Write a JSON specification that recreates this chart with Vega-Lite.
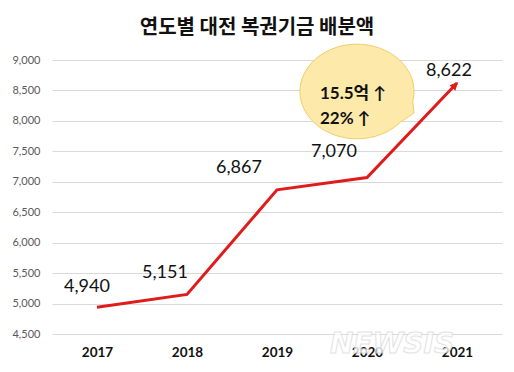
{
  "$schema": "https://vega.github.io/schema/vega-lite/v6.json",
  "width": 450,
  "height": 274,
  "autosize": {"type": "none"},
  "padding": {"left": 52, "top": 60, "right": 12, "bottom": 38},
  "background": "white",
  "config": {"view": {"stroke": null}},
  "title": {
    "text": "연도별 대전 복권기금 배분액",
    "font": "Noto Sans CJK KR",
    "fontSize": 20,
    "fontWeight": "bold",
    "color": "#111111",
    "anchor": "middle",
    "dx": -20,
    "offset": 4
  },
  "datasets": {
    "main": [
      {"year": 2017, "value": 4940},
      {"year": 2018, "value": 5151},
      {"year": 2019, "value": 6867},
      {"year": 2020, "value": 7070},
      {"year": 2021, "value": 8622}
    ],
    "bubble": [
      {"year": 2020, "value": 8500, "text": "15.5억 ↑\n22% ↑"}
    ],
    "mark": [
      {"year": 2020, "value": 4500, "text": "NEWSIS"}
    ]
  },
  "data": {"name": "main"},
  "encoding": {
    "x": {
      "field": "year",
      "type": "quantitative",
      "scale": {"domain": [2016.5, 2021.5], "nice": false, "zero": false},
      "axis": {
        "title": null,
        "values": [2017, 2018, 2019, 2020, 2021],
        "format": "d",
        "grid": false,
        "ticks": false,
        "domain": false,
        "labelFont": "Lato",
        "labelFontSize": 13.5,
        "labelFontWeight": "bold",
        "labelColor": "#111111",
        "labelPadding": 11
      }
    },
    "y": {
      "field": "value",
      "type": "quantitative",
      "scale": {"domain": [4500, 9000], "nice": false, "zero": false},
      "axis": {
        "title": null,
        "values": [4500, 5000, 5500, 6000, 6500, 7000, 7500, 8000, 8500, 9000],
        "format": ",.0f",
        "grid": true,
        "gridColor": "#d9d9d9",
        "gridWidth": 1,
        "ticks": false,
        "domain": false,
        "labelFont": "Lato",
        "labelFontSize": 11,
        "labelColor": "#595959",
        "labelPadding": 12
      }
    }
  },
  "layer": [
    {
      "mark": {"type": "line", "color": "#e01b1b", "strokeWidth": 3}
    },
    {
      "transform": [{"filter": "datum.year == 2021"}],
      "mark": {
        "type": "point",
        "shape": "M0,-0.2L0.6,1L-0.6,1Z",
        "filled": true,
        "color": "#e01b1b",
        "opacity": 1,
        "size": 180,
        "angle": 42.6
      }
    },
    {
      "data": {"name": "bubble"},
      "mark": {
        "type": "point",
        "shape": "M0.978,0.173L1.0,0.38L0.766,0.534A1,0.83 0 1 1 0.978,0.173Z",
        "filled": true,
        "fill": "#fde9a9",
        "stroke": "#efcf6a",
        "strokeWidth": 1,
        "opacity": 1,
        "size": 12996,
        "xOffset": -10,
        "yOffset": 1
      }
    },
    {
      "data": {"name": "bubble"},
      "mark": {
        "type": "text",
        "align": "left",
        "baseline": "middle",
        "lineBreak": "\n",
        "lineHeight": 25,
        "dx": -47,
        "dy": 4,
        "font": "Lato, Noto Sans CJK KR",
        "fontSize": 17,
        "fontWeight": "bold",
        "color": "#111111"
      },
      "encoding": {"text": {"field": "text"}}
    },
    {
      "transform": [{"filter": "datum.year == 2017"}],
      "mark": {"type": "text", "font": "Lato", "fontSize": 18, "color": "#111111", "dx": -10, "dy": -20},
      "encoding": {"text": {"field": "value", "format": ",.0f"}}
    },
    {
      "transform": [{"filter": "datum.year == 2018"}],
      "mark": {"type": "text", "font": "Lato", "fontSize": 18, "color": "#111111", "dx": -22, "dy": -21},
      "encoding": {"text": {"field": "value", "format": ",.0f"}}
    },
    {
      "transform": [{"filter": "datum.year == 2019"}],
      "mark": {"type": "text", "font": "Lato", "fontSize": 18, "color": "#111111", "dx": -38, "dy": -22},
      "encoding": {"text": {"field": "value", "format": ",.0f"}}
    },
    {
      "transform": [{"filter": "datum.year == 2020"}],
      "mark": {"type": "text", "font": "Lato", "fontSize": 18, "color": "#111111", "dx": -33, "dy": -26},
      "encoding": {"text": {"field": "value", "format": ",.0f"}}
    },
    {
      "transform": [{"filter": "datum.year == 2021"}],
      "mark": {"type": "text", "font": "Lato", "fontSize": 18, "color": "#111111", "dx": -8, "dy": -12},
      "encoding": {"text": {"field": "value", "format": ",.0f"}}
    },
    {
      "data": {"name": "mark"},
      "mark": {
        "type": "text",
        "align": "center",
        "baseline": "middle",
        "dx": 25,
        "dy": 11,
        "font": "DejaVu Sans",
        "fontSize": 28,
        "fontWeight": "bold",
        "fontStyle": "italic",
        "fill": "#ffffff",
        "stroke": "#dcdcdc",
        "strokeWidth": 1,
        "opacity": 0.8
      },
      "encoding": {"text": {"field": "text"}}
    }
  ]
}
